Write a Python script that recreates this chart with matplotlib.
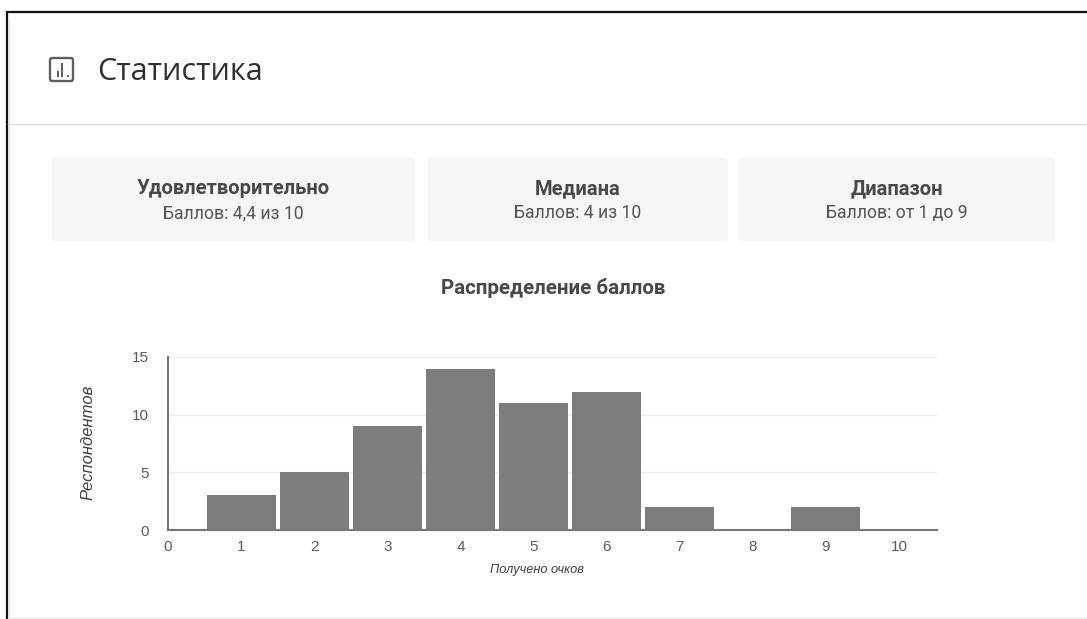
import matplotlib
matplotlib.use("Agg")
import matplotlib.pyplot as plt
from matplotlib.patches import FancyBboxPatch, Rectangle

plt.rcParams['font.family'] = ['Roboto', 'DejaVu Sans']

# Score distribution
scores = [1, 2, 3, 4, 5, 6, 7, 8, 9, 10]
respondents = [3, 5, 9, 14, 11, 12, 2, 0, 2, 0]
x_ticks = [0, 1, 2, 3, 4, 5, 6, 7, 8, 9, 10]
y_ticks = [0, 5, 10, 15]

# Summary cards
card_titles = ["Удовлетворительно", "Медиана", "Диапазон"]
card_values = ["Баллов: 4,4 из 10", "Баллов: 4 из 10", "Баллов: от 1 до 9"]

W, H = 1087, 619
fig = plt.figure(figsize=(W / 100, H / 100), dpi=100, facecolor="white")

# Page layer in pixel units
bg = fig.add_axes([0, 0, 1, 1])
bg.set_xlim(0, W)
bg.set_ylim(H, 0)
bg.axis("off")

bg.plot([7, 7], [12, H], color="#111111", lw=1.6, solid_capstyle="butt")
bg.plot([6, W], [12, 12], color="#111111", lw=1.6, solid_capstyle="butt")
bg.plot([9, 9], [20, H], color="#e2e2e2", lw=0.8)
bg.plot([8, W], [123.5, 123.5], color="#dcdcdc", lw=1)
bg.plot([8, W], [618, 618], color="#e6e6e6", lw=1)

# Header icon
bg.add_patch(FancyBboxPatch((50, 58), 23, 23, boxstyle="round,pad=0,rounding_size=2",
                            fc="white", ec="#5f5f5f", lw=1.7))
for bx, top in zip([56.5, 61, 67], [71, 63, 74.5]):
    bg.add_patch(Rectangle((bx, top), 2.3, 77 - top, fc="#5f5f5f", ec="none"))
bg.text(97, 71.5, "Статистика", family=["Open Sans", "DejaVu Sans"], fontsize=22,
        color="#303030", va="center", ha="left")

# Summary cards
cards = [(51, 415), (427, 728), (738, 1055)]
for (x0, x1), title, value in zip(cards, card_titles, card_values):
    bg.add_patch(FancyBboxPatch((x0, 158), x1 - x0, 83, boxstyle="round,pad=0,rounding_size=4",
                                fc="#f6f6f6", ec="none"))
    xc = (x0 + x1) / 2
    bg.text(xc, 189, title, fontsize=14.5, fontweight="bold", color="#484848",
            ha="center", va="center")
    bg.text(xc, 213, value, fontsize=12.7, color="#555555", ha="center", va="center")

bg.text(553, 288, "Распределение баллов", fontsize=14.8, fontweight="bold",
        color="#484848", ha="center", va="center")

# Histogram
axis_font = ["Liberation Sans", "DejaVu Sans"]
left, right, top, bottom = 168, 937, 357, 530
ax = fig.add_axes([left / W, 1 - bottom / H, (right - left) / W, (bottom - top) / H])
ax.patch.set_alpha(0)
ax.bar(scores, respondents, width=0.945, color="#7d7d7d", zorder=3)
ax.set_xlim(0, 10.52)
ax.set_ylim(0, 15)
ax.set_xticks(x_ticks)
ax.set_yticks(y_ticks)
ax.tick_params(length=0, labelsize=11, labelcolor="#5a5a5a", pad=7)
ax.tick_params(axis="y", pad=14)
for label in ax.get_xticklabels() + ax.get_yticklabels():
    label.set_family(axis_font)
ax.grid(axis="y", color="#ececec", lw=1, zorder=0)
ax.set_axisbelow(True)
for side in ("top", "right"):
    ax.spines[side].set_visible(False)
for side in ("left", "bottom"):
    ax.spines[side].set_color("#777777")
    ax.spines[side].set_linewidth(1.5)
    ax.spines[side].set_zorder(4)

bg.text(537, 570, "Получено очков", family=axis_font, fontsize=9.2, style="italic",
        color="#3f3f3f", ha="center", va="center")
bg.text(88, 442, "Респондентов", family=axis_font, fontsize=12, style="italic",
        color="#3f3f3f", ha="center", va="center", rotation=90)

fig.savefig("out.png", dpi=100)
